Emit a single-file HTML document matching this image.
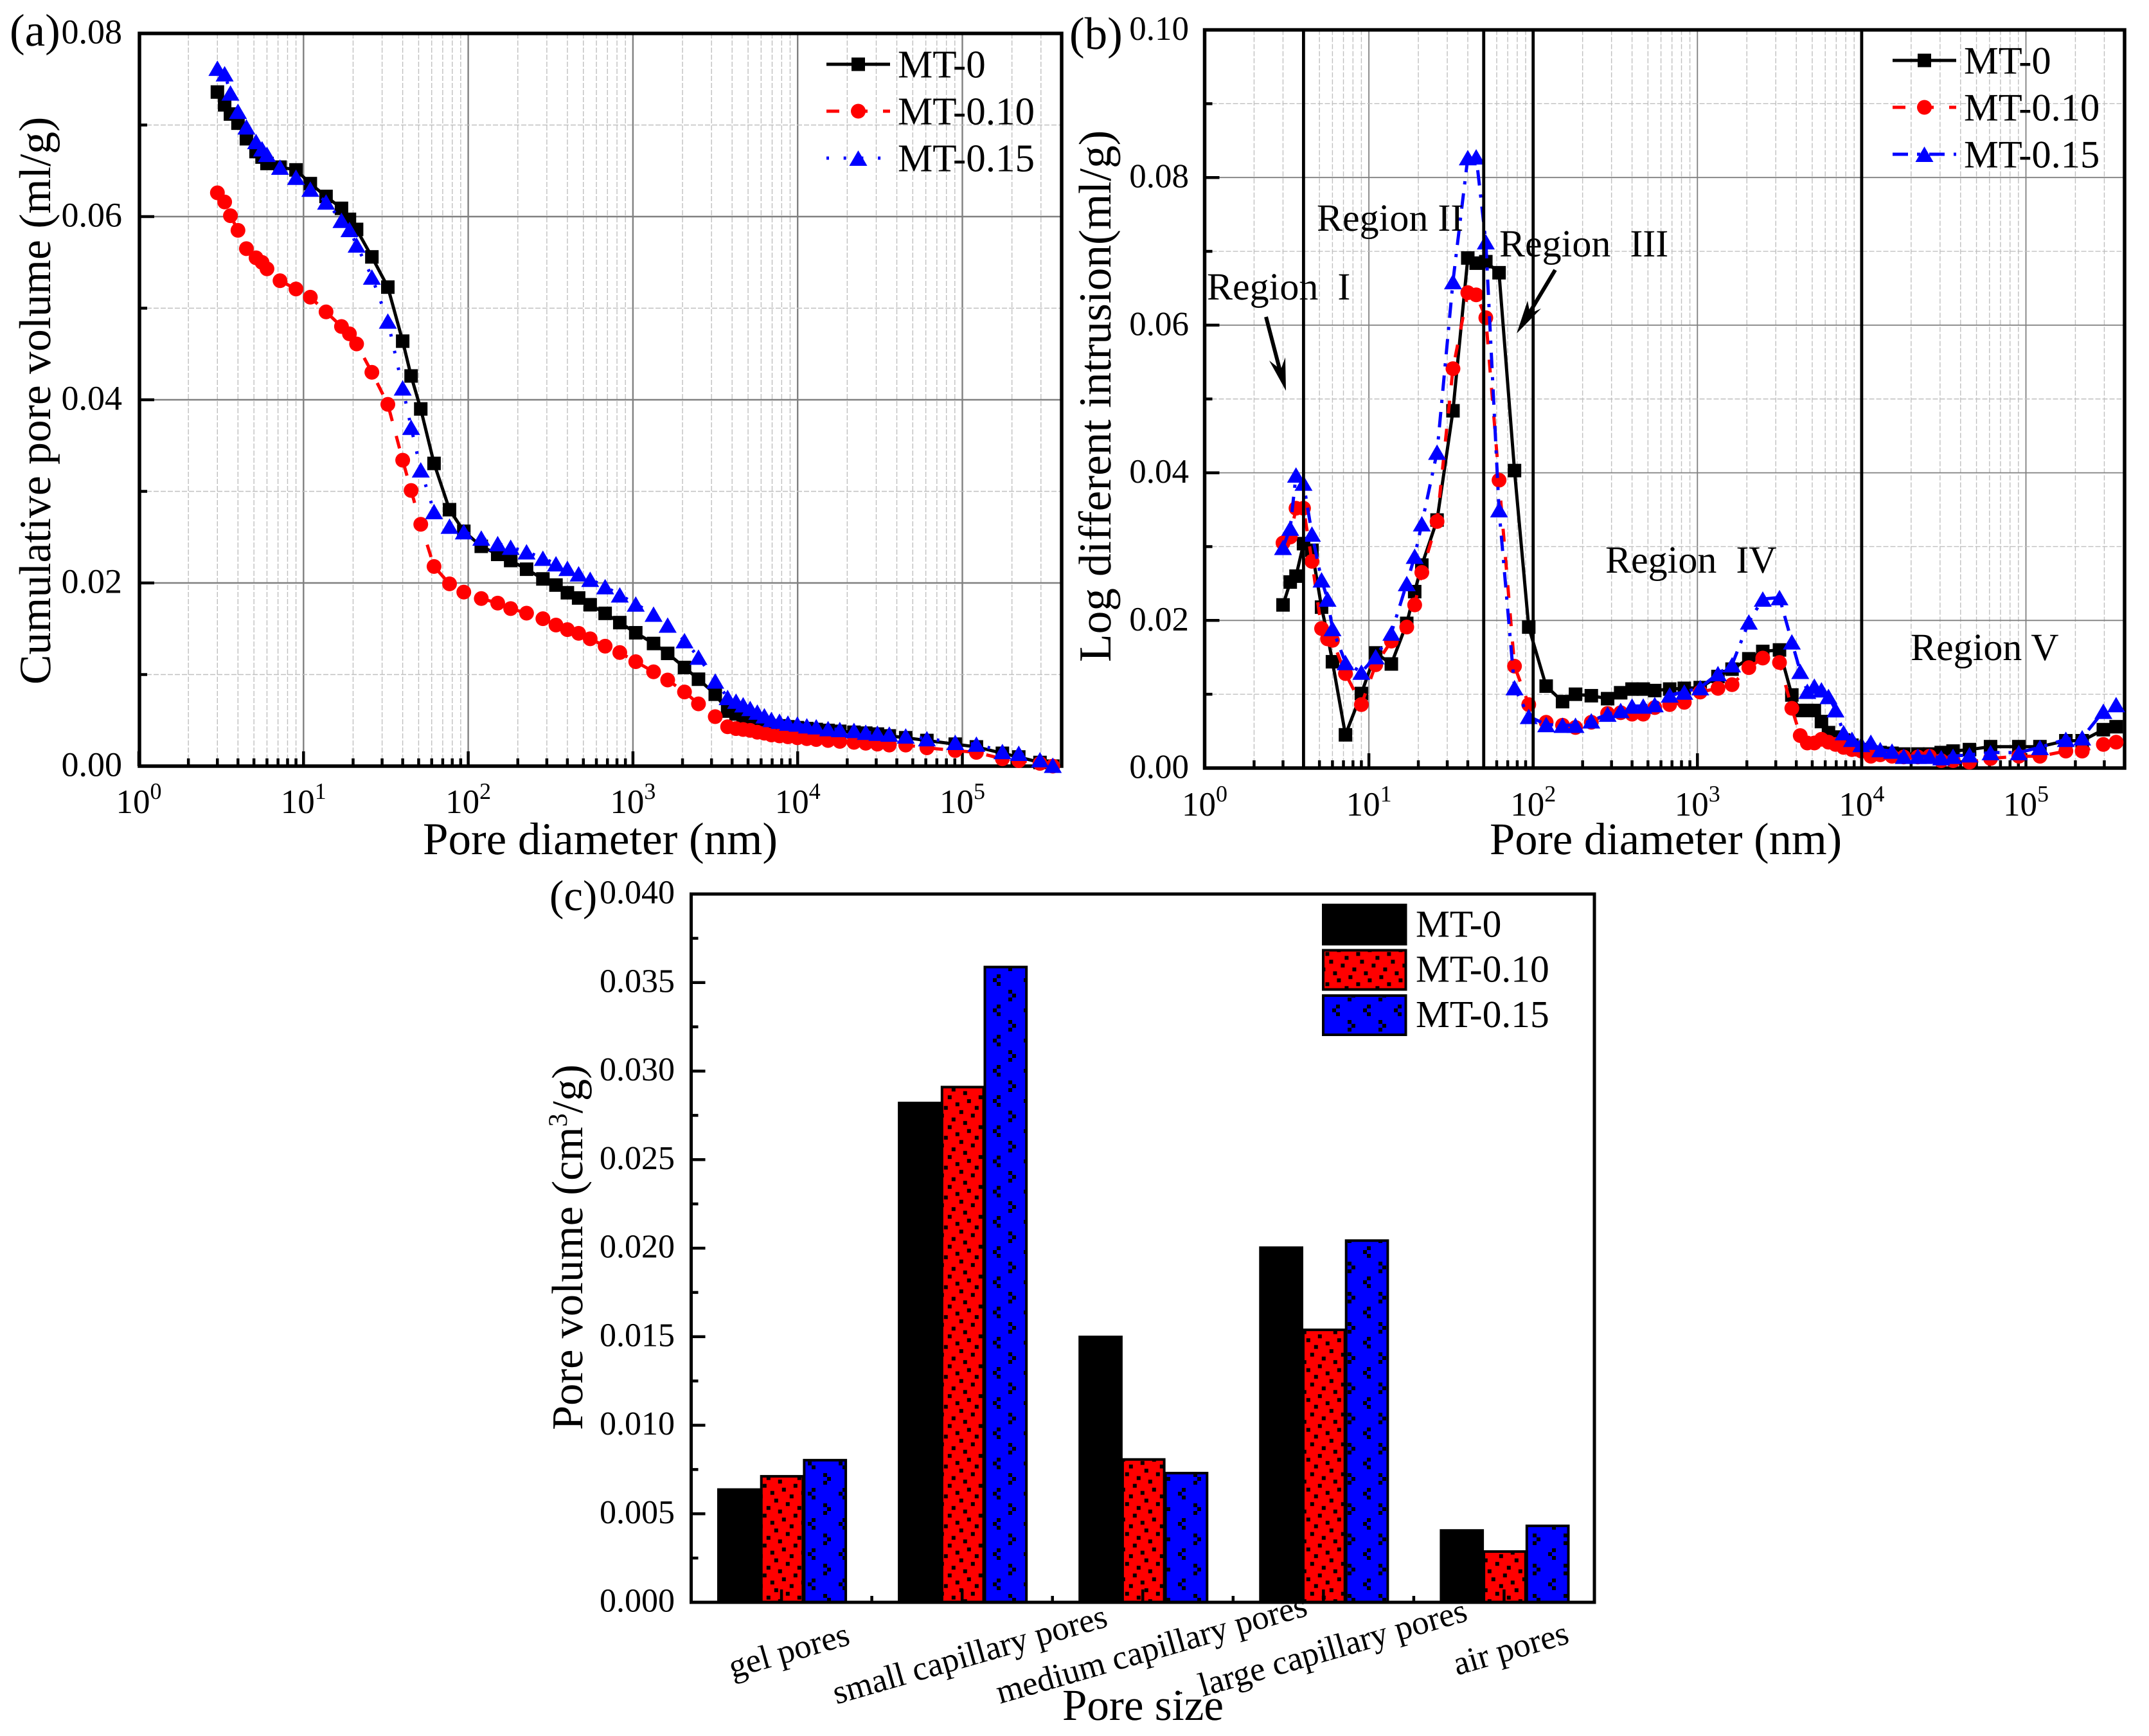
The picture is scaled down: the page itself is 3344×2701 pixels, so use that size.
<!DOCTYPE html>
<html lang="en">
<head>
<meta charset="utf-8">
<title>Pore structure charts</title>
<style>
html,body{margin:0;padding:0;background:#fff;}
svg{display:block;}
text{font-family:"Liberation Serif",serif;fill:#000;text-rendering:geometricPrecision;}
</style>
</head>
<body>
<svg id="figure" xmlns="http://www.w3.org/2000/svg" width="3344" height="2701" viewBox="0 0 3344 2701">
  <defs>
    <pattern id="red-bar-fill" patternUnits="userSpaceOnUse" width="48" height="46.5" patternTransform="translate(1480.8 1692.2)">
      <rect width="48" height="46.5" fill="#ff0000"/>
      <g fill="#000"><rect x="0" y="0" width="6" height="6"/><rect x="18" y="5.5" width="6" height="6"/><rect x="42" y="12" width="6" height="6"/><rect x="24" y="18" width="6" height="6"/><rect x="6" y="23" width="6" height="6"/><rect x="36" y="28.5" width="6" height="6"/><rect x="12" y="35" width="6" height="6"/><rect x="30" y="40.5" width="6" height="6"/></g>
    </pattern>
    <pattern id="red-legend-fill" patternUnits="userSpaceOnUse" width="48" height="47" patternTransform="translate(2062.4 1481.3)">
      <rect width="48" height="47" fill="#ff0000"/>
      <g fill="#000"><rect x="0" y="0" width="6" height="6"/><rect x="30" y="6" width="6" height="6"/><rect x="6" y="12" width="6" height="6"/><rect x="24" y="18" width="6" height="6"/><rect x="42" y="24" width="6" height="6"/><rect x="12" y="30" width="6" height="6"/><rect x="36" y="36" width="6" height="6"/><rect x="18" y="41" width="6" height="6"/></g>
    </pattern>
    <pattern id="blue-bar-fill" patternUnits="userSpaceOnUse" width="48" height="47" patternTransform="translate(1545 1516)">
      <rect width="48" height="47" fill="#0000ff"/>
      <g fill="#000"><rect x="6" y="0" width="6" height="6"/><rect x="0" y="6" width="6" height="6"/><rect x="6" y="12" width="6" height="6"/><rect x="24" y="24" width="6" height="6"/><rect x="30" y="30" width="6" height="6"/><rect x="24" y="36" width="6" height="6"/></g>
    </pattern>
  </defs>
  <rect width="3344" height="2701" fill="#ffffff"/>
  <g id="panel-a"></g>
  <g id="panel-b"></g>
  <g id="panel-c"></g>
</svg>
<script>
var poreDiameters = [3,3.32,3.6,4,4.5,5.15,5.6,6,7.2,9,11,13.7,17,19,21,26,32.5,40,45,51.5,
  62,77,94,120,151,181,226,284,341,400,468,550,678,832,1040,1334,1625,2056,2500,3160,
  3757,4226,4667,5150,5690,6280,6930,7760,8730,9960,11370,12970,15300,18030,21980,25900,30500,36000,45300,60900,90500,121700,175000,220000,296000,354000];

var cumulativeMT0 = [.0736,.0722,.0712,.0702,.0685,.0671,.0665,.0658,.0654,.0651,.0636,.0622,.0609,.0597,.0586,.0556,.0523,.0464,.0426,.039,
  .03305,.028,.02564,.024,.02312,.02245,.0215,.02044,.01977,.01893,.01836,.01762,.01668,.01567,.01456,.01339,.01231,.01077,.00949,.00785,
  .00601,.0057,.0052,.0048,.0046,.0045,.0044,.0044,.0043,.0042,.0041,.004,.0039,.0038,.0037,.0036,.0035,.0033,.0031,.0028,.0024,.0021,.0014,.001,.0004,0];
var cumulativeMT010 = [.0626,.0616,.0601,.0585,.0565,.0555,.055,.0543,.053,.0521,.0512,.0496,.048,.0472,.0461,.043,.0395,.0334,.0301,.0264,
  .0218,.0199,.019,.0183,.0178,.0172,.0167,.0161,.0154,.0149,.0145,.0139,.0131,.0124,.0114,.0103,.0094,.0081,.0068,.0054,
  .0043,.0041,.004,.0039,.0037,.0036,.0034,.0033,.0032,.0031,.003,.0029,.0028,.0027,.0026,.0025,.0024,.0023,.0023,.002,.0017,.0015,.0008,.0006,.0003,0];
var cumulativeMT015 = [.0762,.0756,.0735,.0715,.0698,.0682,.0674,.0668,.0654,.0643,.063,.0616,.0596,.0586,.0569,.0534,.0486,.0413,.037,.03235,
  .0278,.0262,.0256,.0249,.0243,.0239,.0234,.0227,.0221,.0216,.021,.0204,.0196,.0187,.0177,.0166,.0154,.0137,.0119,.0093,
  .0075,.0071,.0067,.0063,.0059,.0055,.0051,.0049,.0047,.0046,.0044,.0043,.0041,.004,.0039,.0037,.0036,.0035,.0033,.003,.0026,.0024,.0016,.0014,.0007,.0001];

var intrusionMT0 = [.0221,.0252,.026,.0304,.0295,.0218,.018,.0144,.0045,.0101,.0156,.0141,.0196,.0239,.0275,.0336,.0484,.0691,.0684,.0686,
  .0671,.0403,.0191,.0111,.009,.01,.0098,.0094,.0102,.0107,.0107,.0105,.0107,.0108,.0109,.0124,.0134,.0148,.0158,.016,
  .0099,.0078,.0078,.0078,.0063,.0048,.0042,.0038,.0031,.0025,.0022,.0021,.002,.0019,.0019,.0019,.0021,.0023,.0025,.0029,.0029,.0029,.0037,.0037,.0052,.0056];
var intrusionMT010 = [.0305,.0313,.0352,.0352,.028,.0189,.0175,.0173,.0128,.0086,.014,.0172,.0191,.0221,.0265,.0334,.0541,.0644,.0641,.061,
  .039,.0138,.0086,.0062,.0058,.0055,.0062,.0074,.0075,.0073,.0073,.0082,.0086,.0089,.0103,.0108,.0113,.0136,.0149,.0143,
  .0081,.0044,.0034,.0034,.0039,.0035,.0032,.0028,.0025,.0023,.0016,.0018,.0016,.0015,.0015,.0016,.001,.001,.0008,.0013,.0016,.0016,.0023,.0023,.0032,.0035];
var intrusionMT015 = [.0299,.0325,.0397,.0386,.0317,.0255,.0229,.0189,.0143,.013,.0151,.0183,.025,.0287,.0331,.0428,.0659,.0827,.0828,.0713,
  .035,.0109,.007,.0059,.0058,.0058,.0064,.0073,.0078,.0084,.0084,.0086,.0099,.0103,.0109,.0128,.014,.0198,.0229,.0231,
  .0171,.0131,.0104,.0111,.0106,.0097,.0079,.0048,.0039,.0032,.0035,.0025,.0023,.0016,.0016,.0016,.0014,.0016,.0018,.0021,.0021,.0028,.0039,.0041,.0077,.0086];

var seriesNames = ['MT-0','MT-0.10','MT-0.15'];
var decadeExponents = [0,1,2,3,4,5];
var yTickLabelsA = ['0.00','0.02','0.04','0.06','0.08'];
var yTickLabelsB = ['0.00','0.02','0.04','0.06','0.08','0.10'];
var regionBoundaries = [4,50,100,10000];

var barCategories = ['gel pores','small capillary pores','medium capillary pores','large capillary pores','air pores'];
var barMT0 = [.00644,.02827,.01506,.0201,.00413];
var barMT010 = [.00719,.02917,.00814,.01546,.00294];
var barMT015 = [.0081,.03595,.00737,.0205,.00439];
var yTickLabelsC = ['0.000','0.005','0.010','0.015','0.020','0.025','0.030','0.035','0.040'];

var NS = 'http://www.w3.org/2000/svg';
function mk(parent, tag, attrs, txt) {
  var el = document.createElementNS(NS, tag);
  for (var k in attrs) el.setAttribute(k, attrs[k]);
  if (txt !== undefined) el.textContent = txt;
  parent.appendChild(el);
  return el;
}
function slug(s) { return s.toLowerCase().replace(/[^a-z0-9]+/g, '-'); }
var colors = ['#000000', '#ff0000', '#0000ff'];

function drawMarker(g, kind, cx, cy) {
  var el;
  if (kind === 0) el = mk(g, 'rect', {x: cx - 10.5, y: cy - 10.5, width: 21, height: 21, fill: colors[0]});
  else if (kind === 1) el = mk(g, 'circle', {cx: cx, cy: cy, r: 11.5, fill: colors[1]});
  else el = mk(g, 'polygon', {points: (cx - 14) + ',' + (cy + 12) + ' ' + cx + ',' + (cy - 12) + ' ' + (cx + 14) + ',' + (cy + 12), fill: colors[2]});
  
  
  return el;
}

function logPanel(root, cfg) {
  var xOf = function (d) { return cfg.x0 + cfg.dec * Math.log10(d); };
  var yOf = function (v) { return cfg.yBottom - cfg.yScale * v; };
  var maxY = cfg.yLabels.length - 1;
  var grid = mk(root, 'g', {});
  
  
  var ticks = mk(root, 'g', {stroke: '#000', 'stroke-width': cfg.tickW});
  
  

  decadeExponents.forEach(function (e) {
    for (var m = 1; m <= 9; m++) {
      var d = m * Math.pow(10, e), x = xOf(d);
      if (x > cfg.right - 2) continue;
      if (m === 1) {
        if (e > 0) mk(grid, 'line', {x1: x, x2: x, y1: cfg.top, y2: cfg.yBottom, stroke: '#808080', 'stroke-width': cfg.majorW});
        mk(ticks, 'line', {x1: x, x2: x, y1: cfg.yBottom, y2: cfg.yBottom - 23});
      } else {
        mk(grid, 'line', {x1: x, x2: x, y1: cfg.top, y2: cfg.yBottom, stroke: '#c0c0c0', 'stroke-width': 1.4, 'stroke-dasharray': '8 3'});
        mk(ticks, 'line', {x1: x, x2: x, y1: cfg.yBottom, y2: cfg.yBottom - 12});
      }
    }
  });
  for (var i = 0; i < maxY; i++) {
    var v0 = parseFloat(cfg.yLabels[i]), v1 = parseFloat(cfg.yLabels[i + 1]);
    var ym = yOf((v0 + v1) / 2);
    mk(grid, 'line', {x1: cfg.left, x2: cfg.right, y1: ym, y2: ym, stroke: '#c0c0c0', 'stroke-width': 1.4, 'stroke-dasharray': '8 3'});
    mk(ticks, 'line', {x1: cfg.left, x2: cfg.left + 12, y1: ym, y2: ym});
    if (i > 0) {
      var yM = yOf(v0);
      mk(grid, 'line', {x1: cfg.left, x2: cfg.right, y1: yM, y2: yM, stroke: '#808080', 'stroke-width': cfg.majorW});
      mk(ticks, 'line', {x1: cfg.left, x2: cfg.left + 23, y1: yM, y2: yM});
    }
  }
  var frame = mk(root, 'rect', {x: cfg.left, y: cfg.top, width: cfg.right - cfg.left, height: cfg.yBottom - cfg.top, fill: 'none', stroke: '#000', 'stroke-width': 5.5});
  
  

  cfg.yLabels.forEach(function (lab) {
    var t = mk(root, 'text', {x: cfg.yLabelX, y: yOf(parseFloat(lab)) + 15.5, 'text-anchor': 'end', 'font-size': cfg.yLabelSize}, lab);
    
    
  });
  decadeExponents.forEach(function (e) {
    var t = mk(root, 'text', {x: xOf(Math.pow(10, e)), y: cfg.xLabelY, 'text-anchor': 'middle', 'font-size': 53}, '10');
    
    
    mk(t, 'tspan', {dy: -22, 'font-size': 36}, String(e));
  });

  var xt = mk(root, 'text', {x: cfg.xTitleX, y: cfg.xTitleY, 'font-size': cfg.xTitleSize}, 'Pore diameter (nm)');
  
  
  var yt = mk(root, 'text', {transform: 'translate(' + cfg.yTitleX + ' ' + cfg.yTitleY + ') rotate(-90)', 'font-size': cfg.yTitleSize}, cfg.yTitle);
  
  
  var pl = mk(root, 'text', {x: cfg.labelX, y: cfg.labelY, 'font-size': 71}, cfg.label);
  
  

  cfg.series.forEach(function (vals, s) {
    var g = mk(root, 'g', {});
    
    
    var pts = vals.map(function (v, i) { return xOf(poreDiameters[i]).toFixed(1) + ',' + yOf(v).toFixed(1); }).join(' ');
    var attrs = {points: pts, fill: 'none', stroke: colors[s], 'stroke-width': 5, 'stroke-linejoin': 'round'};
    if (cfg.dash[s]) attrs['stroke-dasharray'] = cfg.dash[s];
    var line = mk(g, 'polyline', attrs);
    
    
    vals.forEach(function (v, i) { drawMarker(g, s, xOf(poreDiameters[i]), yOf(v)); });
  });

  var lg = mk(root, 'g', {});
  
  
  seriesNames.forEach(function (n, s) {
    var e = mk(lg, 'g', {});
    
    
    var ly = cfg.legY[s];
    var la = {x1: cfg.legX, x2: cfg.legX + 99, y1: ly, y2: ly, stroke: colors[s], 'stroke-width': 5};
    if (cfg.dash[s]) la['stroke-dasharray'] = cfg.dash[s];
    mk(e, 'line', la);
    drawMarker(e, s, cfg.legX + 49.5, ly);
    mk(e, 'text', {x: cfg.legTextX, y: ly + 20.5, 'font-size': cfg.legSize}, n);
  });
  return {xOf: xOf, yOf: yOf};
}

logPanel(document.getElementById('panel-a'), {
  x0: 216, dec: 256.3, yBottom: 1192, yScale: 14250, left: 217, right: 1652, top: 52,
  yLabels: yTickLabelsA, yLabelX: 190, yLabelSize: 54, xLabelY: 1265, tickW: 4.5, majorW: 2.4,
  xTitleX: 658, xTitleY: 1329, xTitleSize: 71, yTitleX: 78, yTitleY: 1065, yTitleSize: 69.6,
  yTitle: 'Cumulative pore volume (ml/g)', label: '(a)', labelX: 15, labelY: 71,
  series: [cumulativeMT0, cumulativeMT010, cumulativeMT015],
  dash: ['', '20 24', '4 22.7'], legX: 1286, legY: [100, 173, 246], legTextX: 1397, legSize: 61
});

var panelB = document.getElementById('panel-b');
var scalesB = logPanel(panelB, {
  x0: 1874.5, dec: 255.6, yBottom: 1195, yScale: 11485, left: 1874.5, right: 3306, top: 46.5,
  yLabels: yTickLabelsB, yLabelX: 1850, yLabelSize: 53, xLabelY: 1269, tickW: 4.5, majorW: 1.8,
  xTitleX: 2318, xTitleY: 1329, xTitleSize: 70.5, yTitleX: 1728, yTitleY: 1030, yTitleSize: 71.4,
  yTitle: 'Log different intrusion(ml/g)', label: '(b)', labelX: 1664, labelY: 76,
  series: [intrusionMT0, intrusionMT010, intrusionMT015],
  dash: ['', '20 24', '24 14 5 14'], legX: 2945, legY: [94, 167, 240], legTextX: 3056, legSize: 60.5
});
regionBoundaries.forEach(function (d) {
  var x = scalesB.xOf(d);
  var l = mk(panelB, 'line', {x1: x, x2: x, y1: 44, y2: 1195, stroke: '#000', 'stroke-width': 4.8});
  
  
});

var regionText = [['Region  I', 1878, 466], ['Region II', 2049, 359], ['Region  III', 2333, 399], ['Region  IV', 2498, 891], ['Region V', 2973, 1027]];
regionText.forEach(function (r) {
  var t = mk(panelB, 'text', {x: r[1], y: r[2], 'font-size': 60, 'xml:space': 'preserve', style: 'white-space:pre'}, r[0]);
  
  
});
var a1 = mk(panelB, 'g', {});


mk(a1, 'line', {x1: 1970, y1: 493, x2: 1994, y2: 585, stroke: '#000', 'stroke-width': 6});
mk(a1, 'polygon', {points: '2001,608 1975,561 1993,575 2000,556', fill: '#000'});
var a2 = mk(panelB, 'g', {});


mk(a2, 'line', {x1: 2420, y1: 420, x2: 2375, y2: 495, stroke: '#000', 'stroke-width': 6});
mk(a2, 'polygon', {points: '2360,519 2377,468 2381,488 2398,480', fill: '#000'});

(function () {
  var root = document.getElementById('panel-c');
  var left = 1075.5, right = 2481, top = 1391, bottom = 2493;
  var yMax = parseFloat(yTickLabelsC[yTickLabelsC.length - 1]);
  var yOf = function (v) { return bottom - (bottom - top) * v / yMax; };
  var groupW = (right - left) / barCategories.length;
  var barW = 66.7;
  var fills = ['#000000', 'url(#red-bar-fill)', 'url(#blue-bar-fill)'];
  var seriesVals = [barMT0, barMT010, barMT015];
  barCategories.forEach(function (c, i) {
    var cx = left + groupW * (i + 0.5);
    seriesVals.forEach(function (vals, s) {
      var x = cx - 1.5 * barW + s * barW;
      var r = mk(root, 'rect', {x: x + 2, y: yOf(vals[i]) + 2, width: barW - 4 + 2, height: bottom - yOf(vals[i]) - 2, fill: fills[s], stroke: '#000', 'stroke-width': 4});
      
      
    });
  });
  var ticks = mk(root, 'g', {stroke: '#000', 'stroke-width': 4.5});
  
  
  yTickLabelsC.forEach(function (lab, i) {
    var v = parseFloat(lab), y = yOf(v);
    if (i > 0 && i < yTickLabelsC.length - 1) mk(ticks, 'line', {x1: left, x2: left + 22, y1: y, y2: y});
    if (i < yTickLabelsC.length - 1) {
      var ym = yOf(v + yMax / (yTickLabelsC.length - 1) / 2);
      mk(ticks, 'line', {x1: left, x2: left + 11, y1: ym, y2: ym});
    }
    var t = mk(root, 'text', {x: 1050, y: y + 14.5, 'text-anchor': 'end', 'font-size': 52}, lab);
    
    
  });
  barCategories.forEach(function (c, i) {
    var cx = left + groupW * (i + 0.5);
    mk(ticks, 'line', {x1: cx, x2: cx, y1: bottom, y2: bottom - 20});
    if (i > 0) mk(ticks, 'line', {x1: left + groupW * i, x2: left + groupW * i, y1: bottom, y2: bottom - 10});
  });
  var frame = mk(root, 'rect', {x: left, y: top, width: right - left, height: bottom - top, fill: 'none', stroke: '#000', 'stroke-width': 5});
  
  

  var labelEnds = [[1325, 2558], [1726, 2530], [2037, 2513], [2286, 2521], [2444, 2556]];
  barCategories.forEach(function (c, i) {
    var t = mk(root, 'text', {transform: 'translate(' + labelEnds[i][0] + ' ' + labelEnds[i][1] + ') rotate(-16)', 'text-anchor': 'end', 'font-size': 53}, c);
    
    
  });
  var dot = mk(root, 'circle', {cx: 1838, cy: 2634, r: 1.5, fill: '#000'});
  
  
  var xt = mk(root, 'text', {x: 1653, y: 2676, 'font-size': 69}, 'Pore size');
  
  
  var yt = mk(root, 'text', {transform: 'translate(906 2225) rotate(-90)', 'font-size': 68.5}, 'Pore volume (cm');
  
  
  mk(yt, 'tspan', {dy: -24, 'font-size': 42}, '3');
  mk(yt, 'tspan', {dy: 24}, '/g)');
  var pl = mk(root, 'text', {x: 855, y: 1416, 'font-size': 67}, '(c)');
  
  

  var lg = mk(root, 'g', {});
  
  
  var legFills = ['#000000', 'url(#red-legend-fill)', 'url(#blue-bar-fill)'];
  var legTops = [1408, 1478.5, 1549];
  var legBase = [1457.7, 1527.7, 1598];
  seriesNames.forEach(function (n, s) {
    var e = mk(lg, 'g', {});
    
    
    mk(e, 'rect', {x: 2059, y: legTops[s], width: 128.5, height: 61, fill: legFills[s], stroke: '#000', 'stroke-width': 4});
    mk(e, 'text', {x: 2203, y: legBase[s], 'font-size': 59.5}, n);
  });
})();
</script>
</body>
</html>
